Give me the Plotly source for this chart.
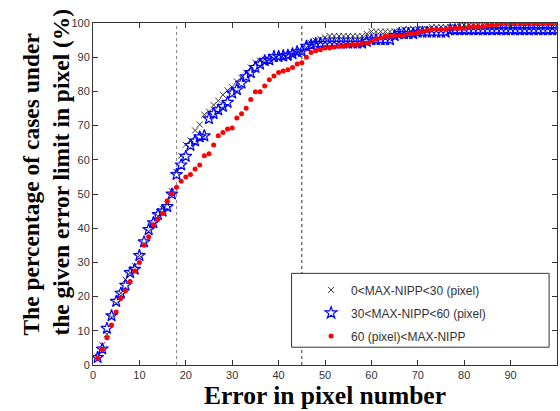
import plotly.graph_objects as go

x_err = list(range(1, 101))

series_low = [2.5, 5.8, 9, 14, 18, 21, 25, 27, 29, 32,
              35.5, 39, 41, 43.5, 45.7, 47, 50.8, 56.4, 61.2, 64.4,
              65.7, 68.6, 70.3, 73.2, 74.1, 76, 77.3, 79, 80.3, 81.2,
              82.9, 84, 85.5, 87, 88.4, 89, 89.3, 89.3, 89.5, 89.5,
              89.8, 89.8, 90.5, 91.2, 91.6, 92.8, 94.1, 94.8, 95.3, 95.8,
              96.2, 96.2, 96.2, 96.2, 96.2, 96.2, 96.2, 96.2, 96.8, 97.5,
              97.5, 97.5, 97.5, 97.5, 97.5, 97.5, 98.2, 98.2, 98.2, 98.2,
              98.2, 98.2, 98.8, 98.8, 98.8, 98.8, 98.8, 98.8, 99.4, 99.4,
              99.4, 99.4, 99.4, 99.4, 100, 100, 100, 100, 100, 100,
              100, 100, 100, 100, 100, 100, 100, 100, 100, 100]

series_mid = [2.2, 4.7, 10.7, 14.4, 18.6, 21, 23.3, 27, 28, 32,
              36, 39.6, 41.6, 44, 45, 46.3, 50, 55.7, 58.5, 61,
              64.2, 65.5, 66.7, 67, 72, 73.5, 74.6, 75.6, 76.8, 79.5,
              80.5, 82.4, 84.3, 85.5, 87, 88, 89, 89.2, 90.2, 90.2,
              90.4, 90.6, 91, 91.6, 91.7, 93.2, 93.6, 94, 94, 94.1,
              94.1, 94.1, 94.1, 94.1, 94.1, 94.1, 94.1, 94.1, 94.6, 95.1,
              95.1, 95.1, 95.1, 95.1, 96.3, 96.9, 96.9, 96.9, 96.9, 97.3,
              97.3, 97.3, 97.3, 97.3, 97.3, 97.3, 98, 98, 98, 98,
              98, 98, 98, 98, 98, 98, 98, 98, 98, 98,
              98, 98, 98, 98, 98, 98, 98, 98, 98, 98]

series_high = [2, 4.6, 8, 11.7, 15.5, 19.5, 21.7, 24.4, 27.5, 30,
               35, 37.5, 41, 42.6, 44.3, 48, 50, 52, 53.7, 55,
               55.7, 57.3, 58.5, 61.2, 61.8, 64.3, 67, 68, 69, 69.3,
               72.2, 73.5, 75.1, 77.6, 79.9, 79.9, 81.6, 83.4, 84.5, 85.5,
               86, 86.3, 87, 88, 88.4, 90, 91.4, 91.9, 92.2, 92.7,
               92.7, 93, 93.2, 93.2, 93.5, 93.7, 93.7, 94.1, 94.1, 94.7,
               95.3, 95.6, 96.1, 96.1, 96.3, 96.3, 96.3, 96.9, 96.9, 97.2,
               97.5, 97.8, 98.2, 98.2, 98.2, 98.2, 98.5, 98.5, 98.5, 98.5,
               99, 99, 99, 99, 99.4, 99.4, 99.4, 100, 100, 100,
               100, 100, 100, 100, 100, 100, 100, 100, 100, 100]

names = ["0<MAX-NIPP<30 (pixel)", "30<MAX-NIPP<60 (pixel)", "60 (pixel)<MAX-NIPP"]
ref_lines = [18, 45]
ticks = list(range(0, 101, 10))
x_title = "Error in pixel number"
y_title = "The percentage of cases under<br>the given error limit in pixel (%)"

fig = go.Figure()
fig.add_trace(go.Scatter(x=x_err, y=series_low, mode="markers", name=names[0],
                         legendgroup="a",
                         marker=dict(symbol="x-thin-open", size=6, color="#333333",
                                     line=dict(width=1, color="#333333"))))
fig.add_trace(go.Scatter(x=x_err, y=series_mid, mode="markers", name=names[1],
                         legendgroup="b",
                         marker=dict(symbol="star-open", size=9, color="blue",
                                     line=dict(width=1.2, color="blue"))))
fig.add_trace(go.Scatter(x=x_err, y=series_high, mode="markers", name=names[2],
                         legendgroup="c",
                         marker=dict(symbol="circle", size=5, color="red",
                                     line=dict(width=0))))

for xv, col in zip(ref_lines, ["#888888", "#333333"]):
    fig.add_shape(type="line", x0=xv, x1=xv, y0=0, y1=100, xref="x", yref="y",
                  line=dict(color=col, width=1, dash="dot"), layer="below")

# legend frame (MATLAB-style wide box)
fig.add_shape(type="rect", xref="paper", yref="paper",
              x0=0.428, x1=0.983, y0=0.052, y1=0.268,
              line=dict(color="#333333", width=1), fillcolor="white", layer="above")

# y-axis title (left-aligned two lines, rotated)
fig.add_annotation(text=y_title, xref="paper", yref="paper", x=-0.101, y=0.563,
                   xanchor="center", yanchor="middle", textangle=-90, align="left",
                   showarrow=False,
                   font=dict(family="Liberation Serif, Times New Roman", size=23.5,
                             color="black", weight="bold"))

axis_common = dict(range=[0, 100], tickvals=ticks, ticks="inside", ticklen=5,
                   tickcolor="#333333", showline=True, linecolor="#333333",
                   linewidth=1, mirror="ticks", showgrid=False, zeroline=False,
                   automargin=False,
                   tickfont=dict(family="Liberation Sans, Arial", size=11, color="#333333"))

fig.update_layout(
    width=560, height=411,
    margin=dict(l=93, r=3, t=23, b=46),
    paper_bgcolor="white", plot_bgcolor="white",
    xaxis=dict(**axis_common,
               title=dict(text=x_title, standoff=0,
                          font=dict(family="Liberation Serif, Times New Roman", size=25.5,
                                    color="black", weight="bold"))),
    yaxis=dict(**axis_common),
    legend=dict(x=0.47, y=0.262, xanchor="left", yanchor="top",
                borderwidth=0, bgcolor="rgba(0,0,0,0)",
                font=dict(family="Liberation Sans, Arial", size=12, color="#333333"),
                tracegroupgap=4),
    showlegend=True,
)

fig.write_html("out.html", config={"displayModeBar": False},
               post_script="document.body.style.margin='0';document.body.style.overflow='hidden';")
